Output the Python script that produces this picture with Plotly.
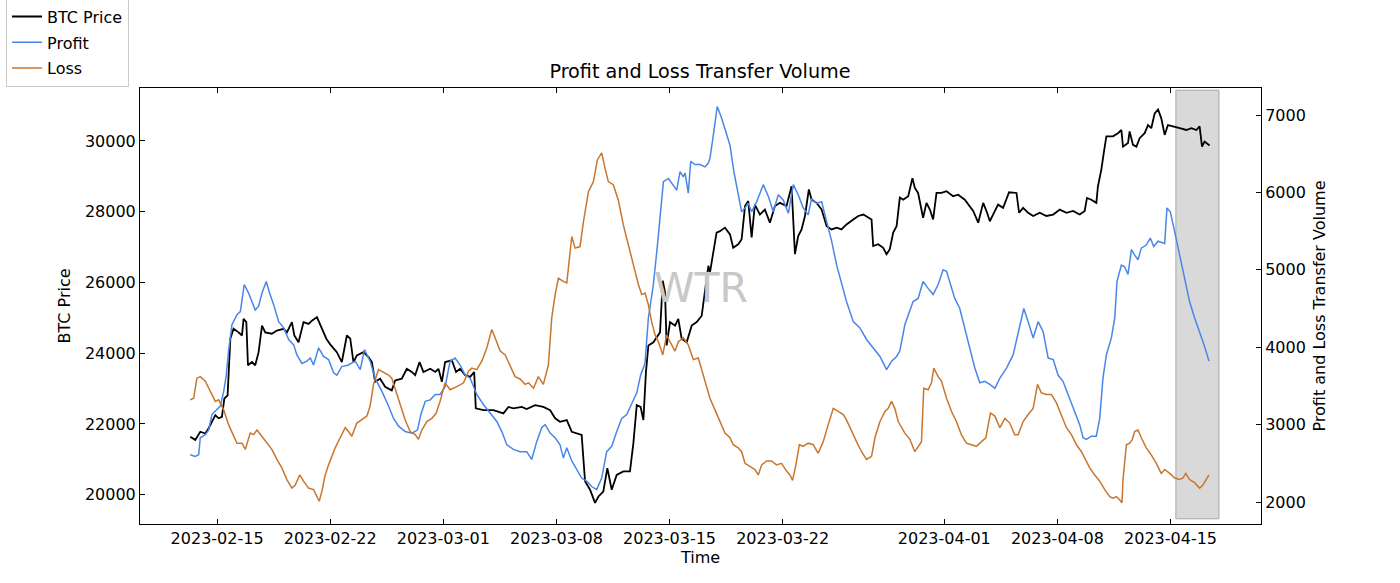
import pandas as pd
import plotly.graph_objects as go

# ---------------- data ----------------
# time values are in days relative to this reference date
ref_date = "2023-02-15"

btc_days = [-1.66, -1.35, -1.04, -0.73, -0.52, -0.32, -0.11, 0.10, 0.30, 0.45,
            0.65, 0.82, 1.02, 1.33, 1.54, 1.64, 1.81, 1.91, 2.16, 2.36,
            2.57, 2.78, 2.98, 3.39, 3.70, 4.12, 4.32, 4.63, 4.78, 5.04,
            5.35, 5.66, 5.87, 6.18, 6.49, 6.76, 7.00, 7.41, 7.72, 8.03,
            8.24, 8.44, 8.65, 9.06, 9.37, 9.58, 9.78, 10.09, 10.40, 10.81,
            11.02, 11.43, 11.74, 12.05, 12.26, 12.53, 12.77, 13.19, 13.50, 13.70,
            13.91, 14.11, 14.53, 14.79, 15.04, 15.35, 15.66, 15.91, 16.01, 16.48,
            17.10, 17.52, 17.72, 18.03, 18.34, 18.86, 19.16, 19.68, 20.19, 20.61,
            20.92, 21.22, 21.64, 21.95, 22.26, 22.56, 22.77, 23.08, 23.39, 23.60,
            23.90, 24.15, 24.42, 24.73, 25.14, 25.55, 25.76, 25.97, 26.21, 26.38,
            26.54, 26.69, 27.00, 27.25, 27.41, 27.58, 27.72, 27.82, 28.03, 28.34,
            28.54, 28.75, 29.06, 29.37, 29.68, 29.99, 30.19, 30.40, 30.50, 30.71,
            30.91, 31.12, 31.43, 31.74, 31.94, 32.25, 32.46, 32.67, 32.87, 33.08,
            33.28, 33.59, 33.90, 34.21, 34.52, 34.83, 35.24, 35.55, 35.76, 35.96,
            36.17, 36.38, 36.62, 36.79, 37.10, 37.41, 37.72, 38.03, 38.34, 38.64,
            38.95, 39.37, 39.68, 39.99, 40.29, 40.50, 40.60, 40.91, 41.22, 41.43,
            41.63, 41.84, 42.05, 42.25, 42.46, 42.77, 43.03, 43.18, 43.38, 43.69,
            43.90, 44.11, 44.31, 44.52, 44.83, 45.14, 45.55, 45.86, 46.27, 46.58,
            46.79, 47.10, 47.41, 47.65, 47.82, 48.02, 48.33, 48.64, 49.01, 49.47,
            49.63, 49.88, 50.19, 50.50, 50.91, 51.32, 51.74, 52.15, 52.56, 52.97,
            53.38, 53.69, 53.83, 54.10, 54.41, 54.51, 54.72, 54.87, 55.03, 55.44,
            55.75, 55.96, 56.06, 56.37, 56.47, 56.68, 56.89, 57.09, 57.40, 57.61,
            57.81, 58.02, 58.23, 58.43, 58.64, 58.84, 59.26, 59.57, 59.98, 60.29,
            60.60, 60.80, 60.95, 61.11, 61.42]

btc_price = [21640, 21550, 21780, 21730, 21880, 22060, 22250, 22160, 22200, 22720,
             22810, 24410, 24690, 24590, 24500, 24970, 24880, 23660, 23750, 23660,
             24030, 24780, 24590, 24550, 24640, 24690, 24590, 24880, 24500, 24310,
             24880, 24830, 24920, 25020, 24690, 24410, 24250, 24030, 23750, 24500,
             24410, 23750, 23940, 24030, 23890, 23750, 23190, 23280, 23050, 22950,
             23230, 23280, 23560, 23470, 23380, 23750, 23470, 23560, 23470, 23560,
             23190, 23750, 23800, 23470, 23560, 23380, 23330, 23470, 22440, 22390,
             22390, 22340, 22300, 22480, 22440, 22480, 22420, 22530, 22480, 22390,
             22160, 22060, 22110, 21780, 21730, 21690, 20380, 20140, 19770, 19950,
             20090, 20750, 20140, 20560, 20660, 20660, 21450, 22530, 22480, 22110,
             23470, 24220, 24310, 24500, 24590, 26050, 25720, 24220, 24880, 24780,
             24970, 24410, 24310, 24780, 24880, 25060, 25810, 26470, 26280, 26840,
             27410, 27450, 27550, 27360, 26980, 27080, 27220, 28160, 28300, 27270,
             28200, 27920, 28060, 27690, 28160, 28250, 28160, 28720, 26800, 27310,
             27500, 27880, 28630, 28340, 28250, 28060, 27590, 27500, 27550, 27500,
             27640, 27780, 27880, 27920, 27830, 27780, 27030, 27080, 26980, 26800,
             26940, 27410, 27590, 28400, 28340, 28440, 28950, 28670, 28530, 27830,
             28250, 28060, 27780, 28530, 28530, 28580, 28440, 28480, 28340, 28160,
             28020, 27690, 28250, 27970, 27730, 27920, 28200, 28110, 28550, 28530,
             27970, 28110, 27970, 27880, 27970, 27880, 27920, 28060, 27970, 28020,
             27920, 28020, 28390, 28340, 28250, 28720, 29190, 29660, 30130, 30130,
             30220, 30310, 29840, 29940, 30270, 29890, 29840, 30080, 30220, 30450,
             30360, 30780, 30890, 30640, 30170, 30450, 30410, 30360, 30310, 30360,
             30310, 30410, 29840, 29980, 29870]

profit_days = [-1.66, -1.35, -1.14, -1.04, -0.73, -0.52, -0.32, -0.01, 0.20, 0.41,
               0.57, 0.71, 0.92, 1.23, 1.44, 1.68, 1.95, 2.36, 2.57, 2.78,
               3.04, 3.25, 3.50, 3.81, 4.12, 4.43, 4.74, 4.94, 5.25, 5.56,
               5.77, 5.97, 6.28, 6.59, 6.90, 7.21, 7.41, 7.72, 8.13, 8.55,
               8.86, 9.12, 9.47, 9.78, 10.20, 10.61, 10.92, 11.23, 11.64, 12.05,
               12.40, 12.61, 12.88, 13.19, 13.50, 13.80, 14.11, 14.42, 14.73, 15.04,
               15.35, 15.66, 16.07, 16.48, 16.90, 17.31, 17.62, 17.93, 18.34, 18.75,
               19.16, 19.47, 19.78, 20.09, 20.30, 20.61, 20.92, 21.22, 21.43, 21.64,
               21.95, 22.26, 22.56, 22.87, 23.18, 23.49, 23.80, 24.11, 24.42, 24.73,
               25.04, 25.35, 25.66, 25.97, 26.21, 26.48, 26.69, 27.00, 27.25, 27.41,
               27.62, 27.93, 28.23, 28.44, 28.65, 28.85, 28.96, 29.16, 29.31, 29.58,
               29.88, 30.19, 30.40, 30.50, 30.71, 30.95, 31.22, 31.53, 31.74, 31.98,
               32.25, 32.46, 32.67, 32.87, 33.08, 33.39, 33.80, 34.11, 34.42, 34.73,
               35.04, 35.35, 35.66, 35.96, 36.27, 36.58, 36.79, 37.10, 37.41, 37.72,
               38.03, 38.34, 38.64, 38.95, 39.37, 39.78, 40.19, 40.60, 41.02, 41.43,
               41.74, 42.05, 42.25, 42.56, 42.87, 43.07, 43.38, 43.69, 44.00, 44.31,
               44.62, 44.93, 45.14, 45.34, 45.65, 45.96, 46.27, 46.58, 46.89, 47.20,
               47.51, 47.82, 48.13, 48.44, 48.85, 49.26, 49.57, 49.92, 50.19, 50.50,
               50.81, 51.12, 51.43, 51.74, 52.04, 52.35, 52.66, 52.97, 53.38, 53.59,
               53.79, 54.10, 54.41, 54.62, 54.82, 55.03, 55.34, 55.55, 55.69, 55.96,
               56.16, 56.37, 56.58, 56.78, 56.99, 57.19, 57.50, 57.75, 57.96, 58.23,
               58.64, 58.78, 58.99, 59.26, 59.57, 59.88, 60.18, 60.49, 60.80, 61.11,
               61.38]

profit_volume = [2610, 2590, 2610, 2830, 2870, 2930, 3130, 3190, 3240, 3430,
                 3640, 3950, 4290, 4420, 4460, 4810, 4700, 4480, 4530, 4700,
                 4850, 4700, 4550, 4330, 4250, 4100, 4030, 3900, 3790, 3820,
                 3860, 3770, 3990, 3880, 3840, 3670, 3640, 3750, 3770, 3820,
                 3710, 3970, 3820, 3600, 3430, 3240, 3080, 2980, 2910, 2890,
                 2930, 3130, 3300, 3320, 3390, 3390, 3490, 3820, 3860, 3770,
                 3640, 3600, 3390, 3260, 3150, 3040, 2910, 2740, 2680, 2650,
                 2650, 2550, 2780, 2960, 3000, 2890, 2830, 2740, 2570, 2700,
                 2530, 2420, 2310, 2270, 2200, 2160, 2310, 2650, 2720, 2910,
                 3080, 3130, 3280, 3410, 3640, 3790, 4380, 4810, 5320, 5670,
                 6140, 6180, 6100, 6030, 6270, 6200, 6250, 5990, 6400, 6360,
                 6360, 6330, 6380, 6440, 6740, 7110, 6960, 6760, 6610, 6270,
                 5970, 5750, 5800, 5860, 5750, 5880, 6100, 5950, 5750, 5970,
                 5900, 5730, 6100, 5970, 5800, 5710, 5920, 5860, 5880, 5620,
                 5370, 5060, 4810, 4590, 4330, 4250, 4100, 3990, 3880, 3710,
                 3820, 3880, 3950, 4290, 4460, 4590, 4630, 4850, 4760, 4680,
                 4810, 5000, 4980, 4850, 4630, 4500, 4250, 3990, 3730, 3540,
                 3560, 3520, 3470, 3600, 3730, 3900, 4200, 4500, 4330, 4120,
                 4330, 4200, 3860, 3840, 3640, 3560, 3390, 3210, 3000, 2830,
                 2810, 2850, 2850, 3080, 3600, 3900, 4120, 4380, 4850, 5060,
                 5040, 4940, 5260, 5190, 5130, 5280, 5320, 5410, 5300, 5370,
                 5340, 5800, 5750, 5490, 5190, 4870, 4590, 4380, 4200, 4010,
                 3820]

loss_days = [-1.66, -1.45, -1.25, -1.04, -0.73, -0.42, -0.11, 0.10, 0.41, 0.71,
             1.02, 1.23, 1.54, 1.75, 2.05, 2.26, 2.47, 2.78, 3.09, 3.39,
             3.70, 4.01, 4.32, 4.63, 4.84, 5.11, 5.35, 5.66, 5.97, 6.18,
             6.32, 6.49, 6.69, 6.90, 7.31, 7.62, 7.93, 8.13, 8.34, 8.65,
             8.96, 9.27, 9.47, 9.68, 9.99, 10.30, 10.61, 10.81, 11.02, 11.33,
             11.64, 11.95, 12.26, 12.46, 12.67, 12.98, 13.29, 13.56, 13.80, 14.11,
             14.42, 14.84, 15.25, 15.56, 15.76, 16.07, 16.38, 16.69, 17.00, 17.21,
             17.52, 17.83, 18.13, 18.44, 18.75, 19.06, 19.27, 19.58, 19.88, 20.19,
             20.50, 20.71, 20.92, 21.12, 21.43, 21.64, 21.95, 22.15, 22.46, 22.67,
             22.98, 23.29, 23.53, 23.80, 24.01, 24.21, 24.52, 24.83, 25.14, 25.45,
             25.76, 26.07, 26.28, 26.48, 26.69, 26.89, 27.10, 27.31, 27.58, 27.82,
             28.03, 28.34, 28.54, 28.85, 29.16, 29.47, 29.78, 30.09, 30.40, 30.50,
             30.81, 31.12, 31.43, 31.74, 31.94, 32.25, 32.46, 32.67, 32.97, 33.28,
             33.49, 33.70, 34.01, 34.31, 34.62, 34.93, 35.24, 35.45, 35.61, 35.82,
             36.03, 36.27, 36.58, 36.89, 37.20, 37.51, 37.82, 38.13, 38.44, 38.75,
             38.95, 39.26, 39.57, 39.88, 40.19, 40.50, 40.71, 41.02, 41.33, 41.53,
             41.74, 41.94, 42.15, 42.56, 42.87, 43.18, 43.38, 43.59, 43.73, 44.00,
             44.21, 44.35, 44.62, 44.83, 45.14, 45.45, 45.75, 46.06, 46.37, 46.68,
             46.99, 47.30, 47.57, 47.86, 48.13, 48.44, 48.75, 49.05, 49.36, 49.57,
             49.88, 50.19, 50.50, 50.77, 51.01, 51.32, 51.63, 51.94, 52.25, 52.56,
             52.87, 53.18, 53.49, 53.69, 54.00, 54.31, 54.62, 54.93, 55.24, 55.44,
             55.65, 55.85, 56.00, 56.06, 56.27, 56.47, 56.64, 56.78, 56.99, 57.19,
             57.50, 57.81, 58.12, 58.43, 58.64, 58.95, 59.26, 59.57, 59.77, 59.94,
             60.18, 60.49, 60.80, 61.01, 61.22, 61.38]

loss_volume = [3320, 3340, 3600, 3620, 3560, 3430, 3300, 3320, 3190, 3000,
               2850, 2760, 2760, 2680, 2890, 2870, 2930, 2850, 2760, 2680,
               2550, 2440, 2290, 2180, 2220, 2350, 2270, 2180, 2160, 2070,
               2010, 2140, 2350, 2480, 2700, 2830, 2960, 2910, 2850, 3020,
               3060, 3110, 3240, 3520, 3710, 3670, 3640, 3600, 3470, 3260,
               3060, 2910, 2870, 2810, 2930, 3040, 3080, 3150, 3300, 3540,
               3450, 3490, 3540, 3690, 3730, 3710, 3820, 3990, 4230, 4120,
               3950, 3900, 3770, 3620, 3590, 3520, 3540, 3470, 3620, 3520,
               3770, 4380, 4680, 4890, 4850, 4830, 5430, 5280, 5300, 5620,
               6010, 6140, 6420, 6510, 6310, 6140, 6100, 5900, 5580, 5320,
               5060, 4810, 4680, 4700, 4550, 4330, 4160, 4070, 3900, 4160,
               4070, 3950, 4070, 4120, 4030, 3840, 3860, 3640, 3390, 3340,
               3190, 3040, 2890, 2830, 2740, 2700, 2650, 2500, 2460, 2420,
               2350, 2480, 2530, 2530, 2480, 2500, 2400, 2350, 2280, 2480,
               2740, 2720, 2760, 2740, 2630, 2780, 3000, 3210, 3170, 3130,
               3060, 2910, 2780, 2650, 2550, 2590, 2830, 3040, 3170, 3210,
               3300, 3210, 3040, 2890, 2810, 2650, 2720, 2780, 3470, 3450,
               3540, 3730, 3620, 3560, 3340, 3170, 3040, 2870, 2760, 2740,
               2720, 2780, 2830, 3150, 3110, 2960, 3080, 3020, 2870, 2870,
               3040, 3130, 3210, 3520, 3410, 3390, 3390, 3280, 3130, 2960,
               2870, 2740, 2650, 2570, 2440, 2350, 2270, 2160, 2070, 2050,
               2070, 2030, 1990, 2290, 2740, 2760, 2810, 2910, 2930, 2830,
               2700, 2610, 2500, 2370, 2420, 2370, 2310, 2290, 2310, 2370,
               2290, 2250, 2180, 2220, 2290, 2350]

x_tick_labels = ["2023-02-15", "2023-02-22", "2023-03-01", "2023-03-08", "2023-03-15",
                 "2023-03-22", "2023-04-01", "2023-04-08", "2023-04-15"]
price_ticks = [20000, 22000, 24000, 26000, 28000, 30000]
volume_ticks = [2000, 3000, 4000, 5000, 6000, 7000]

highlight_start = "2023-04-15 08:00"
highlight_end = "2023-04-18 00:00"

x_range_days = [-4.77, 64.6]
price_range = [19172, 31497]
volume_range = [1716, 7349]


def to_dates(days):
    return pd.Timestamp(ref_date) + pd.to_timedelta(days, unit="D")


# ---------------- figure ----------------
FONT = "DejaVu Sans"
BLACK = "#000000"

fig = go.Figure()
fig.add_trace(go.Scatter(x=to_dates(btc_days), y=btc_price, name="BTC Price", mode="lines",
                         legendgroup="g1",
                         line=dict(color="#000000", width=1.8), yaxis="y"))
fig.add_trace(go.Scatter(x=to_dates(profit_days), y=profit_volume, name="Profit", mode="lines",
                         legendgroup="g2",
                         line=dict(color="#4a86e8", width=1.5), yaxis="y2"))
fig.add_trace(go.Scatter(x=to_dates(loss_days), y=loss_volume, name="Loss", mode="lines",
                         legendgroup="g3",
                         line=dict(color="#c8762e", width=1.5), yaxis="y2"))

fig.add_shape(type="rect", xref="x", yref="paper",
              x0=highlight_start, x1=highlight_end, y0=0.012, y1=0.995,
              fillcolor="#d9d9d9", line=dict(color="#a8a8a8", width=1), layer="below")

fig.add_annotation(text="WTR", xref="paper", yref="paper", x=0.5, y=0.5416,
                   showarrow=False, font=dict(family=FONT, size=41, color="#c8c8c8"))

axis_common = dict(ticks="inside", ticklen=5, tickwidth=1, tickcolor=BLACK,
                   showline=True, linecolor=BLACK, linewidth=1,
                   showgrid=False, zeroline=False,
                   tickfont=dict(family=FONT, size=16, color=BLACK))

fig.update_layout(
    width=1400, height=583,
    margin=dict(l=140, r=139, t=88, b=59, pad=0, autoexpand=False),
    paper_bgcolor="white", plot_bgcolor="white",
    font=dict(family=FONT, size=16, color=BLACK),
    title=dict(text="Profit and Loss Transfer Volume", x=0.5, xanchor="center",
               y=1 - 71 / 583, yanchor="middle", font=dict(family=FONT, size=19.2, color=BLACK)),
    xaxis=dict(type="date", range=list(to_dates(x_range_days)),
               tickvals=x_tick_labels, ticktext=x_tick_labels, mirror="ticks",
               title=dict(text="Time", standoff=4, font=dict(family=FONT, size=16)),
               **axis_common),
    yaxis=dict(range=price_range, tickvals=price_ticks, ticktext=[str(v) for v in price_ticks],
               title=dict(text="BTC Price", standoff=10, font=dict(family=FONT, size=16)),
               **axis_common),
    yaxis2=dict(range=volume_range, tickvals=volume_ticks, ticktext=[str(v) for v in volume_ticks],
                overlaying="y", side="right",
                title=dict(text="Profit and Loss Transfer Volume", standoff=8,
                           font=dict(family=FONT, size=16)),
                **axis_common),
    legend=dict(x=-0.1195, y=1.205, xanchor="left", yanchor="top",
                bordercolor="#cccccc", borderwidth=1, bgcolor="white",
                tracegroupgap=2, entrywidth=88, entrywidthmode="pixels",
                font=dict(family=FONT, size=16, color=BLACK)),
    showlegend=True,
)

fig.write_html("out.html", config={"displayModeBar": False},
               post_script="document.body.style.margin='0';document.body.style.overflow='hidden';")
